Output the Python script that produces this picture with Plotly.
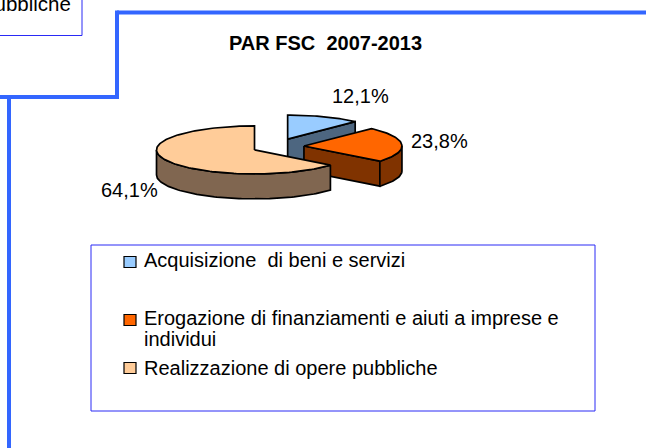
import math
import plotly.graph_objects as go

# ---------------- data ----------------
categories = ["Acquisizione  di beni e servizi",
              "Erogazione di finanziamenti e aiuti a imprese e",
              "Realizzazione di opere pubbliche"]
category_extra_line = ["", "individui", ""]
values = [12.1, 23.8, 64.1]
value_labels = ["12,1%", "23,8%", "64,1%"]
title_text = "PAR FSC\u00a0\u00a02007-2013"
top_colors = ["#99CCFF", "#FF6600", "#FFCC99"]
side_colors = ["#4D6680", "#803300", "#806650"]

# ---------------- layout constants ----------------
W, H = 646, 448
CX, CY = 278, 146.5
RX, RY = 98, 24
DEPTH = 25
EX, EY = 26, 8
FONT = "Liberation Sans, Arial, sans-serif"
LABEL_POS = [(360, 96), (439, 141), (129, 190)]
LEG_SQ_Y = [262, 320, 368]
LEG_TXT_Y = [[260], [317.5, 339], [367.5]]
THICK = "#3366FF"
THIN = "#2A2AF5"

fig = go.Figure()

total = sum(values)
slices = []
start = 0.0
for i, v in enumerate(values):
    a0 = start
    a1 = start + v / total * 360.0
    start = a1
    mid = math.radians((a0 + a1) / 2)
    ox = CX + EX * math.sin(mid)
    oy = CY - EY * math.cos(mid)
    slices.append((i, a0, a1, ox, oy))


def pt(ox, oy, a, dz=0.0):
    r = math.radians(a)
    return ox + RX * math.sin(r), oy - RY * math.cos(r) + dz


def arc(ox, oy, a0, a1, dz=0.0):
    n = max(2, int(abs(a1 - a0) / 1.5) + 2)
    return [pt(ox, oy, a0 + (a1 - a0) * k / (n - 1), dz) for k in range(n)]


def poly(points, color):
    xs = [p[0] for p in points] + [points[0][0]]
    ys = [p[1] for p in points] + [points[0][1]]
    fig.add_trace(go.Scatter(x=xs, y=ys, mode="lines", fill="toself",
                             fillcolor=color,
                             line=dict(color="black", width=1.7),
                             hoverinfo="skip", showlegend=False))


for (i, a0, a1, ox, oy) in sorted(slices, key=lambda s: s[4]):
    side = side_colors[i]
    # radial walls
    for a, vis in ((a0, math.sin(math.radians(a0)) < -1e-6),
                   (a1, math.sin(math.radians(a1)) > 1e-6)):
        if vis:
            p = pt(ox, oy, a)
            poly([(ox, oy), p, (p[0], p[1] + DEPTH), (ox, oy + DEPTH)], side)
    # outer wall
    lo, hi = max(a0, 90.0), min(a1, 270.0)
    if lo < hi:
        poly(arc(ox, oy, lo, hi) + arc(ox, oy, hi, lo, DEPTH), side)
    # top face
    poly([(ox, oy)] + arc(ox, oy, a0, a1), top_colors[i])

annotations = []
for (lx, ly), t in zip(LABEL_POS, value_labels):
    annotations.append(dict(x=lx, y=ly, text=t, showarrow=False,
                            xanchor="center", yanchor="middle",
                            font=dict(family=FONT, size=20, color="black")))

annotations.append(dict(x=325, y=43, text="<b>" + title_text + "</b>", showarrow=False,
                        xanchor="center", yanchor="middle",
                        font=dict(family=FONT, size=20, color="black")))

shapes = []
# legend box
shapes.append(dict(type="rect", x0=91, y0=245, x1=595, y1=411,
                   line=dict(color=THIN, width=1), fillcolor="rgba(0,0,0,0)", layer="below"))
for k in range(len(categories)):
    cy = LEG_SQ_Y[k]
    shapes.append(dict(type="rect", x0=124, x1=136, y0=cy - 5.5, y1=cy + 5.5,
                       line=dict(color="black", width=1.2), fillcolor=top_colors[k]))
    lines = [categories[k]] + ([category_extra_line[k]] if category_extra_line[k] else [])
    for ln, ty in zip(lines, LEG_TXT_Y[k]):
        annotations.append(dict(x=142, y=ty, text=ln, showarrow=False,
                                xanchor="left", yanchor="middle",
                                font=dict(family=FONT, size=20, color="black")))

# partial neighbour box, top-left
shapes.append(dict(type="rect", x0=-10, y0=-10, x1=82, y1=35.5,
                   line=dict(color=THIN, width=1), fillcolor="rgba(0,0,0,0)"))
annotations.append(dict(x=72.5, y=17, text="Realizzazione di opere pubbliche", showarrow=False,
                        xanchor="right", yanchor="bottom",
                        font=dict(family=FONT, size=20.5, color="black")))

# thick frame lines
for (x0, y0, x1, y1) in [(117, 12.5, 660, 12.5), (117, 10.5, 117, 99),
                         (-10, 97, 119, 97), (9, 95, 9, 460)]:
    shapes.append(dict(type="line", x0=x0, y0=y0, x1=x1, y1=y1,
                       line=dict(color=THICK, width=4)))

fig.update_layout(
    width=W, height=H,
    margin=dict(l=0, r=0, t=0, b=0),
    paper_bgcolor="white", plot_bgcolor="white",
    xaxis=dict(range=[0, W], visible=False, fixedrange=True),
    yaxis=dict(range=[H, 0], visible=False, fixedrange=True),
    showlegend=False,
    annotations=annotations,
    shapes=shapes,
)

fig.write_html("out.html", config={"displayModeBar": False},
               post_script="document.body.style.margin='0px';document.body.style.overflow='hidden';")
